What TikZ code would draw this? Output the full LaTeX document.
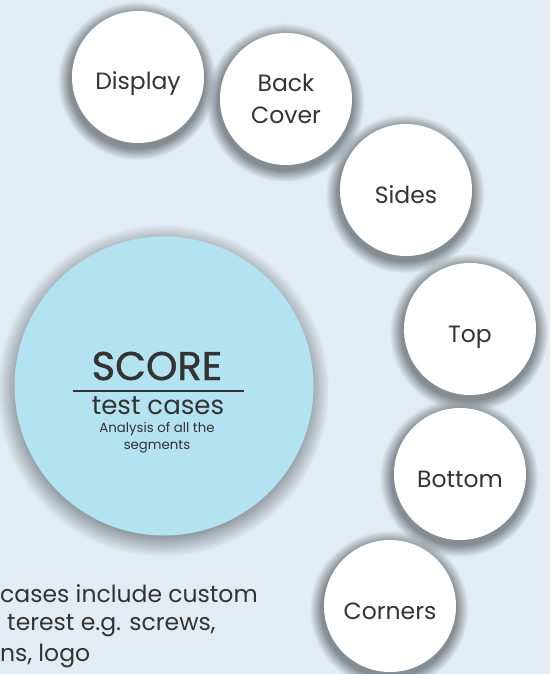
\documentclass[tikz,border=0pt]{standalone}
\usepackage{fontspec}
\setmainfont{Poppins}
\newfontfamily\scorefont{Poppins}[FakeBold=1.2]
\usetikzlibrary{shadows,fadings}
\definecolor{pagebg}{HTML}{E3EBF3}
\definecolor{scoreblue}{HTML}{B3E2F1}
\definecolor{glowgray}{HTML}{858D94}
\definecolor{inkgray}{HTML}{333333}
\tikzset{
  part/.style={circle, fill=white, minimum size=132pt, inner sep=0pt, align=center,
    text=inkgray, font=\fontsize{23.5}{32}\selectfont, text height=26pt, text depth=0pt,
    circular drop shadow={shadow scale=1.2, shadow xshift=-1pt, shadow yshift=-3pt, fill=glowgray}},
  core/.style={circle, fill=scoreblue, minimum size=299pt, inner sep=0pt,
    circular drop shadow={shadow scale=1.11, shadow xshift=-1pt, shadow yshift=-4pt, fill=glowgray}},
  words/.style={inner sep=0pt, text=inkgray}
}
\begin{document}
\begin{tikzpicture}[x=1pt,y=-1pt]
\useasboundingbox (0,0) rectangle (550,674);
\fill [pagebg] (0,0) rectangle (550,674);
%centre circle
\node [core] (score) at (164,386) {};
\node [words, anchor=base, font=\scorefont\fontsize{40}{42}\selectfont] (scorename) at (157,380) {SCORE};
\draw [inkgray][line width=1.4pt] (73,391)--(244,391);
\node [words, anchor=base, font=\fontsize{26}{28}\selectfont] (testcases) at (158,414) {test cases};
\node [words, anchor=base, font=\fontsize{13.3}{15}\selectfont] (analysis) at (157,432) {Analysis of all the};
\node [words, anchor=base, font=\fontsize{13.3}{15}\selectfont] (segments) at (157,449) {segments};
%segments round it
\node [part] (display) at (138,77) {Display};
\node [part, text height=, text depth=] (back) at (286,99) {Back\\Cover};
\node [part] (sides) at (406,190) {Sides};
\node [part] (top) at (470,329) {Top};
\node [part] (bottom) at (460,474) {Bottom};
\node [part] (corners) at (390,606) {Corners};
%note below
\node [words, anchor=base west, font=\fontsize{23.5}{26}\selectfont] (note1) at (0,602) {cases include custom};
\node [words, anchor=base west, font=\fontsize{23.5}{26}\selectfont] (note2) at (7,630) {terest e.g. screws,};
\node [words, anchor=base west, font=\fontsize{23.5}{26}\selectfont] (note3) at (0,661) {ns, logo};
\end{tikzpicture}
\end{document}
